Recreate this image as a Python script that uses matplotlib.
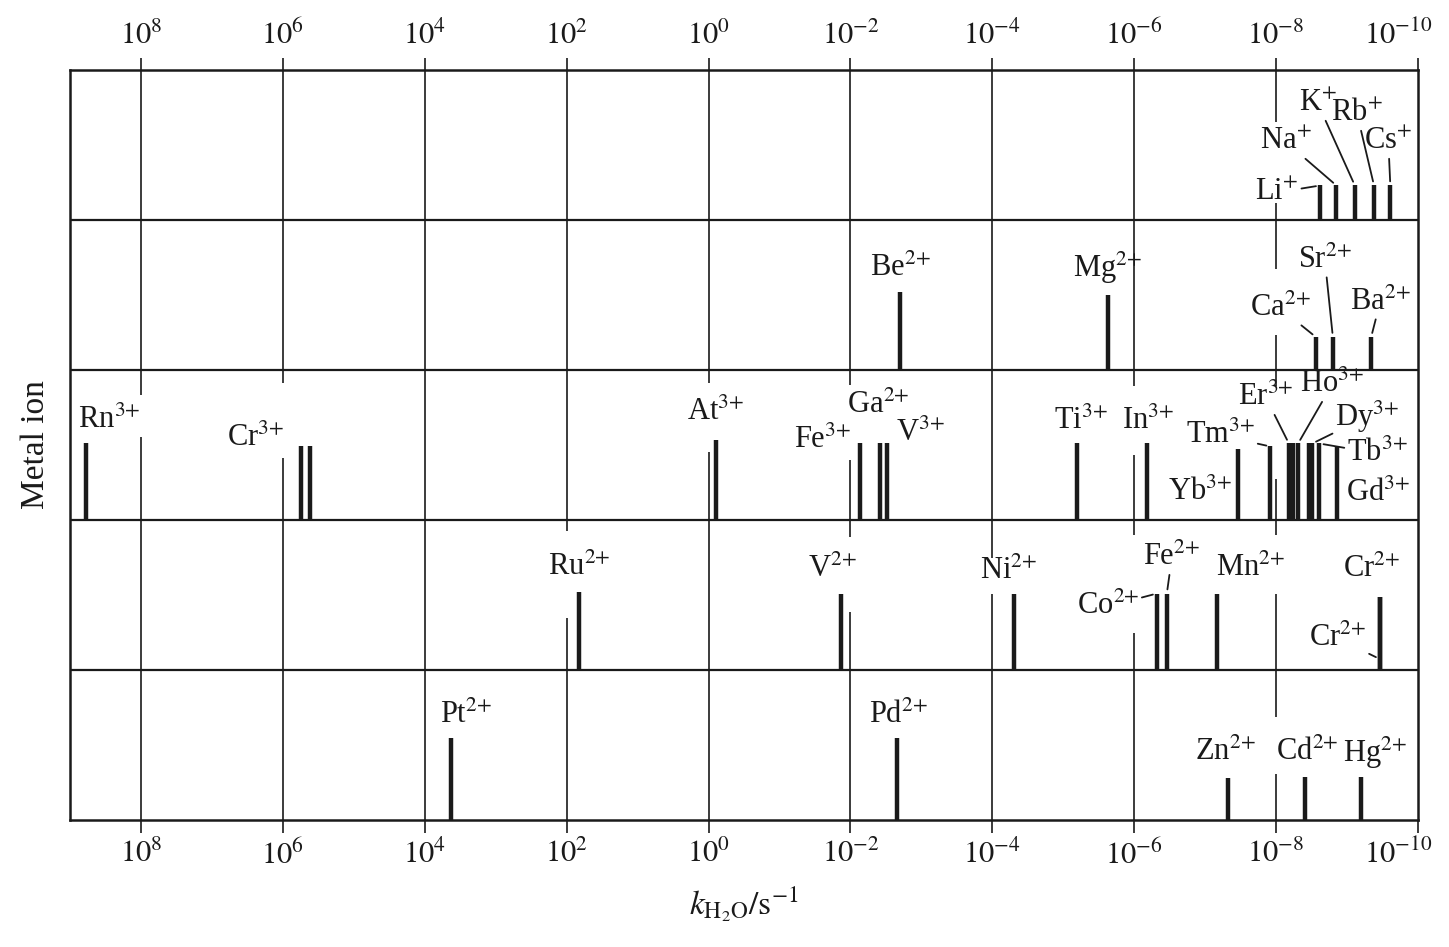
import matplotlib.pyplot as plt
import matplotlib.transforms as mtransforms
from matplotlib.ticker import FixedLocator, FixedFormatter, NullLocator

plt.rcParams['font.family'] = ['Liberation Serif', 'DejaVu Serif']
plt.rcParams['mathtext.fontset'] = 'stix'

# log10(k_H2O), one list per row (top row first)
ions_1 = [r'Li$^{+}$', r'Na$^{+}$', r'K$^{+}$', r'Rb$^{+}$', r'Cs$^{+}$']
logk_1 = [-8.62, -8.85, -9.11, -9.38, -9.61]

ions_2 = [r'Be$^{2{+}}$', r'Mg$^{2{+}}$', r'Ca$^{2{+}}$', r'Sr$^{2{+}}$', r'Ba$^{2{+}}$']
logk_2 = [-2.70, -5.63, -8.56, -8.80, -9.34]

ions_3 = [r'Rn$^{3{+}}$', r'Cr$^{3{+}}$', '', r'At$^{3{+}}$', r'Fe$^{3{+}}$', r'Ga$^{2{+}}$',
          r'V$^{3{+}}$', r'Ti$^{3{+}}$', r'In$^{3{+}}$', r'Yb$^{3{+}}$', r'Tm$^{3{+}}$',
          r'Er$^{3{+}}$', '', r'Ho$^{3{+}}$', '', r'Dy$^{3{+}}$', r'Tb$^{3{+}}$', r'Gd$^{3{+}}$']
logk_3 = [8.77, 5.75, 5.62, -0.10, -2.14, -2.42, -2.51, -5.20, -6.18, -7.46, -7.92,
          -8.18, -8.24, -8.31, -8.46, -8.51, -8.61, -8.86]

ions_4 = [r'Ru$^{2{+}}$', r'V$^{2{+}}$', r'Ni$^{2{+}}$', r'Co$^{2{+}}$', r'Fe$^{2{+}}$',
          r'Mn$^{2{+}}$', r'Cr$^{2{+}}$', r'Cr$^{2{+}}$']
logk_4 = [1.83, -1.87, -4.30, -6.32, -6.46, -7.17, -9.46, -9.46]

ions_5 = [r'Pt$^{2{+}}$', r'Pd$^{2{+}}$', r'Zn$^{2{+}}$', r'Cd$^{2{+}}$', r'Hg$^{2{+}}$']
logk_5 = [3.63, -2.66, -7.32, -8.41, -9.20]

tick_exps = [8, 6, 4, 2, 0, -2, -4, -6, -8, -10]

# layout: bar height (fraction of a row) and label offset in pixels (dx, dy, leader, anchor)
heights = [
    [0.23, 0.23, 0.23, 0.23, 0.23],
    [0.52, 0.50, 0.22, 0.22, 0.22],
    [0.51, 0.49, 0.49, 0.53, 0.51, 0.51, 0.51, 0.51, 0.51, 0.47, 0.49,
     0.51, 0.51, 0.51, 0.51, 0.51, 0.51, 0.49],
    [0.52, 0.51, 0.51, 0.51, 0.51, 0.51, 0.49, 0.49],
    [0.55, 0.55, 0.28, 0.29, 0.29],
]
offsets = [
    [(-43, -7, True, 1), (-51, 44, True, 1), (-37, 82, True, 1), (-17, 72, True, 1), (-2, 44, True, 1)],
    [(0, 24, False, 1), (0, 27, False, 1), (-36, 29, True, 1), (-8, 77, True, 1), (9, 35, True, 1)],
    [(23, 23, False, 1), (-45, 8, False, 1), None, (0, 28, False, 1), (-38, 3, False, 1),
     (-2, 38, False, 1), (34, 10, False, 1), (3, 22, False, 1), (1, 22, False, 1),
     (-38, -43, False, 1), (-50, 11, True, 1), (-23, 46, True, 1), None, (34, 59, True, 1),
     None, (55, 27, True, 1), (58, -10, True, 1), (41, -47, False, 1)],
    [(0, 25, False, 1), (-9, 24, False, 1), (-5, 22, False, 1), (-49, -13, True, 1),
     (5, 36, True, 1), (33, 25, False, 1), (-8, 27, False, 1), (-42, -42, True, 0.15)],
    [(15, 22, False, 1), (1, 22, False, 1), (-3, 26, False, 1), (2, 24, False, 1), (14, 24, False, 1)],
]
# breaks in the vertical grid lines (exponent, y from, y to) in row units
grid_gaps = [(-8, 4.11, 4.65), (-8, 3.23, 3.67),
             (8, 2.55, 2.83), (6, 2.41, 2.91), (0, 2.45, 2.91), (-2, 2.40, 2.90),
             (-6, 2.43, 2.89), (-8, 2.27, 2.89),
             (2, 1.35, 1.93), (-2, 1.39, 1.89), (-4, 1.51, 1.75), (-6, 1.25, 1.90),
             (-8, 1.51, 1.90), (-8, 0.31, 0.69)]

rows = [(ions_1, logk_1), (ions_2, logk_2), (ions_3, logk_3), (ions_4, logk_4), (ions_5, logk_5)]

fig = plt.figure(figsize=(14.49, 9.47), dpi=100)
ax = fig.add_axes([70 / 1449, 127 / 947, 1348 / 1449, 750 / 947])
ax.set_xscale('log')
ax.set_xlim(1e9, 1e-10)
ax.set_ylim(0, 5)

ink = '#1a1a1a'

# vertical grid lines with gaps
for e in tick_exps[:-1]:
    cuts = sorted((lo, hi) for ex, lo, hi in grid_gaps if ex == e)
    y0 = 0
    for lo, hi in cuts:
        ax.vlines(10.0 ** e, y0, lo, color=ink, lw=1.2, zorder=1)
        y0 = hi
    ax.vlines(10.0 ** e, y0, 5, color=ink, lw=1.2, zorder=1)

for yb in [1, 2, 3, 4]:
    ax.axhline(yb, color=ink, lw=1.6, zorder=1)

for r, (ions, logk) in enumerate(rows):
    base = 4 - r
    for name, lk, h, off in zip(ions, logk, heights[r], offsets[r]):
        k = 10.0 ** lk
        ax.vlines(k, base, base + h, color=ink, lw=3.2, zorder=3)
        if not name:
            continue
        dx, dy, leader, anchor = off
        top = base + h
        if leader:
            xy = (k, base + h * anchor)
            # text offset is given from the bar top, re-based on the leader end
            dy_a = dy + (1 - anchor) * h * 150
            ax.annotate(name, xy=xy, xytext=(dx, dy_a), textcoords='offset pixels',
                        ha='center', va='center', fontsize=22, color=ink,
                        arrowprops=dict(arrowstyle='-', color=ink, lw=1.3,
                                        shrinkA=0, shrinkB=3))
        else:
            ax.annotate(name, xy=(k, top), xytext=(dx, dy), textcoords='offset pixels',
                        ha='center', va='center', fontsize=22, color=ink)

ax.xaxis.set_major_locator(FixedLocator([10.0 ** e for e in tick_exps]))
ax.xaxis.set_major_formatter(FixedFormatter([r'$10^{%d}$' % e for e in tick_exps]))
ax.xaxis.set_minor_locator(NullLocator())
ax.tick_params(axis='x', which='major', direction='out', length=9, width=1.2,
               pad=5, labelsize=22, top=True, labeltop=True, colors=ink)
ax.set_yticks([])
for sp in ax.spines.values():
    sp.set_linewidth(1.8)
    sp.set_color(ink)

# pull the last tick labels (10^-10) inside the figure
last = ax.xaxis.get_major_ticks()[-1]
shift = mtransforms.ScaledTranslation(-20 / 100, 0, fig.dpi_scale_trans)
last.label1.set_transform(last.label1.get_transform() + shift)
last.label2.set_transform(last.label2.get_transform() + shift)

ax.set_xlabel(r'$k_{\mathrm{H_2O}}/\mathrm{s}^{-1}$', fontsize=24, color=ink, labelpad=10)
ax.set_ylabel('Metal ion', fontsize=24, color=ink, labelpad=14)

fig.savefig('out.png', dpi=100)
